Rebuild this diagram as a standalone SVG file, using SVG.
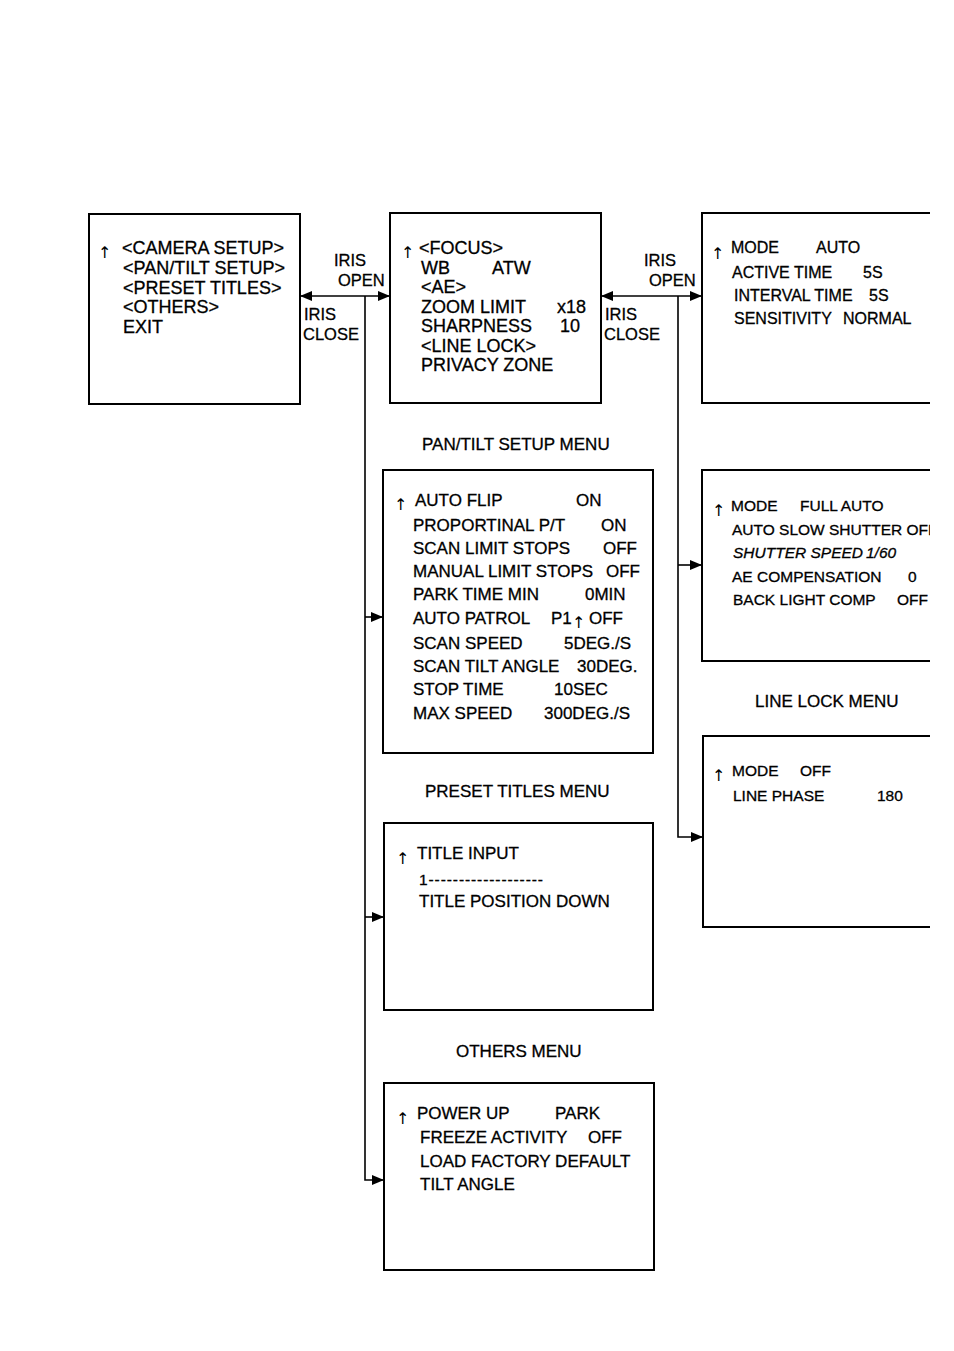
<svg xmlns="http://www.w3.org/2000/svg" width="954" height="1351" viewBox="0 0 954 1351">
<style>
text{font-family:"Liberation Sans",Arial,sans-serif;fill:#000;stroke:#000;stroke-width:0.3}
.t18{font-size:18px}
.t17{font-size:17px}
.t16{font-size:16px}
.t15{font-size:15.5px}
.lab{font-size:16.5px}
.ar{font-family:"DejaVu Sans",sans-serif;font-size:16px;stroke-width:0}
.box{fill:none;stroke:#000;stroke-width:2}
.con{fill:none;stroke:#000;stroke-width:1.6}
</style>
<defs>
<marker id="ah" markerWidth="12" markerHeight="10" refX="11" refY="5" orient="auto" markerUnits="userSpaceOnUse">
<path d="M0,0 L12,5 L0,10 Z" fill="#000"/>
</marker>
<marker id="ahs" markerWidth="12" markerHeight="10" refX="1" refY="5" orient="auto" markerUnits="userSpaceOnUse">
<path d="M12,0 L0,5 L12,10 Z" fill="#000"/>
</marker>
<clipPath id="clipR"><rect x="690" y="200" width="240" height="740"/></clipPath>
</defs>
<rect width="954" height="1351" fill="#fff"/>

<g id="connectors">
<line class="con" x1="301" y1="296" x2="389" y2="296" marker-start="url(#ahs)" marker-end="url(#ah)"/>
<polyline class="con" points="365,296 365,1180 383,1180" marker-end="url(#ah)"/>
<line class="con" x1="365" y1="617" x2="382" y2="617" marker-end="url(#ah)"/>
<line class="con" x1="365" y1="917" x2="383" y2="917" marker-end="url(#ah)"/>
<line class="con" x1="602" y1="296" x2="701" y2="296" marker-start="url(#ahs)" marker-end="url(#ah)"/>
<polyline class="con" points="678,296 678,837 702,837" marker-end="url(#ah)"/>
<line class="con" x1="678" y1="565" x2="701" y2="565" marker-end="url(#ah)"/>
<text class="lab" x="334" y="266">IRIS</text>
<text class="lab" x="338" y="286">OPEN</text>
<text class="lab" x="304" y="320">IRIS</text>
<text class="lab" x="303" y="340">CLOSE</text>
<text class="lab" x="644" y="266">IRIS</text>
<text class="lab" x="649" y="286">OPEN</text>
<text class="lab" x="605" y="320">IRIS</text>
<text class="lab" x="604" y="340">CLOSE</text>
</g>

<g id="main-menu">
<rect class="box" x="89" y="214" width="211" height="190"/>
<text class="ar" x="98" y="258">↑</text>
<text class="t18" x="122" y="254">&lt;CAMERA SETUP&gt;</text>
<text class="t18" x="123" y="274">&lt;PAN/TILT SETUP&gt;</text>
<text class="t18" x="123" y="294">&lt;PRESET TITLES&gt;</text>
<text class="t18" x="123" y="313">&lt;OTHERS&gt;</text>
<text class="t18" x="123" y="333">EXIT</text>
</g>

<g id="camera-setup">
<rect class="box" x="390" y="213" width="211" height="190"/>
<text class="ar" x="401" y="258">↑</text>
<text class="t18" x="419" y="254">&lt;FOCUS&gt;</text>
<text class="t18" x="421" y="274">WB</text>
<text class="t18" x="492" y="274">ATW</text>
<text class="t18" x="421" y="293">&lt;AE&gt;</text>
<text class="t18" x="421" y="313">ZOOM LIMIT</text>
<text class="t18" x="557" y="313">x18</text>
<text class="t18" x="421" y="332">SHARPNESS</text>
<text class="t18" x="560" y="332">10</text>
<text class="t18" x="421" y="352">&lt;LINE LOCK&gt;</text>
<text class="t18" x="421" y="371">PRIVACY ZONE</text>
</g>

<g id="focus-menu" clip-path="url(#clipR)">
<path class="box" d="M932,213 H702 V403 H932"/>
<text class="ar" x="711" y="259">↑</text>
<text class="t16" x="731" y="253">MODE</text>
<text class="t16" x="816" y="253">AUTO</text>
<text class="t16" x="732" y="278">ACTIVE TIME</text>
<text class="t16" x="863" y="278">5S</text>
<text class="t16" x="734" y="301">INTERVAL TIME</text>
<text class="t16" x="869" y="301">5S</text>
<text class="t16" x="734" y="324">SENSITIVITY</text>
<text class="t16" x="843" y="324">NORMAL</text>
</g>

<g id="pan-tilt-menu">
<text class="t17" x="422" y="450">PAN/TILT SETUP MENU</text>
<rect class="box" x="383" y="470" width="270" height="283"/>
<text class="ar" x="394" y="510">↑</text>
<text class="t17" x="415" y="506">AUTO FLIP</text>
<text class="t17" x="576" y="506">ON</text>
<text class="t17" x="413" y="531">PROPORTINAL P/T</text>
<text class="t17" x="601" y="531">ON</text>
<text class="t17" x="413" y="554">SCAN LIMIT STOPS</text>
<text class="t17" x="603" y="554">OFF</text>
<text class="t17" x="413" y="577">MANUAL LIMIT STOPS</text>
<text class="t17" x="606" y="577">OFF</text>
<text class="t17" x="413" y="600">PARK TIME MIN</text>
<text class="t17" x="585" y="600">0MIN</text>
<text class="t17" x="413" y="624">AUTO PATROL</text>
<text class="t17" x="551" y="624">P1</text>
<text class="ar" x="572" y="628">↑</text>
<text class="t17" x="589" y="624">OFF</text>
<text class="t17" x="413" y="649">SCAN SPEED</text>
<text class="t17" x="564" y="649">5DEG./S</text>
<text class="t17" x="413" y="672">SCAN TILT ANGLE</text>
<text class="t17" x="577" y="672">30DEG.</text>
<text class="t17" x="413" y="695">STOP TIME</text>
<text class="t17" x="554" y="695">10SEC</text>
<text class="t17" x="413" y="719">MAX SPEED</text>
<text class="t17" x="544" y="719">300DEG./S</text>
</g>

<g id="ae-menu" clip-path="url(#clipR)">
<path class="box" d="M932,470 H702 V661 H932"/>
<text class="ar" x="712" y="516">↑</text>
<text class="t15" x="731" y="511">MODE</text>
<text class="t15" x="800" y="511">FULL AUTO</text>
<text class="t15" x="732" y="535">AUTO SLOW SHUTTER  OFF</text>
<text class="t15" x="733" y="558" font-style="italic">SHUTTER SPEED</text>
<text class="t15" x="866" y="558" font-style="italic">1/60</text>
<text class="t15" x="732" y="582">AE COMPENSATION</text>
<text class="t15" x="908" y="582">0</text>
<text class="t15" x="733" y="605">BACK LIGHT COMP</text>
<text class="t15" x="897" y="605">OFF</text>
</g>

<g id="line-lock-menu" clip-path="url(#clipR)">
<text class="t17" x="755" y="707">LINE LOCK MENU</text>
<path class="box" d="M932,736 H703 V927 H932"/>
<text class="ar" x="712" y="781">↑</text>
<text class="t15" x="732" y="776">MODE</text>
<text class="t15" x="800" y="776">OFF</text>
<text class="t15" x="733" y="801">LINE PHASE</text>
<text class="t15" x="877" y="801">180</text>
</g>

<g id="preset-titles-menu">
<text class="t17" x="425" y="797">PRESET TITLES MENU</text>
<rect class="box" x="384" y="823" width="269" height="187"/>
<text class="ar" x="396" y="864">↑</text>
<text class="t17" x="417" y="859">TITLE INPUT</text>
<text class="t15" x="419" y="885" textLength="124" lengthAdjust="spacing">1-------------------</text>
<text class="t17" x="419" y="907">TITLE POSITION DOWN</text>
</g>

<g id="others-menu">
<text class="t17" x="456" y="1057">OTHERS MENU</text>
<rect class="box" x="384" y="1083" width="270" height="187"/>
<text class="ar" x="396" y="1124">↑</text>
<text class="t17" x="417" y="1119">POWER UP</text>
<text class="t17" x="555" y="1119">PARK</text>
<text class="t17" x="420" y="1143">FREEZE ACTIVITY</text>
<text class="t17" x="588" y="1143">OFF</text>
<text class="t17" x="420" y="1167">LOAD FACTORY DEFAULT</text>
<text class="t17" x="420" y="1190">TILT ANGLE</text>
</g>
</svg>
